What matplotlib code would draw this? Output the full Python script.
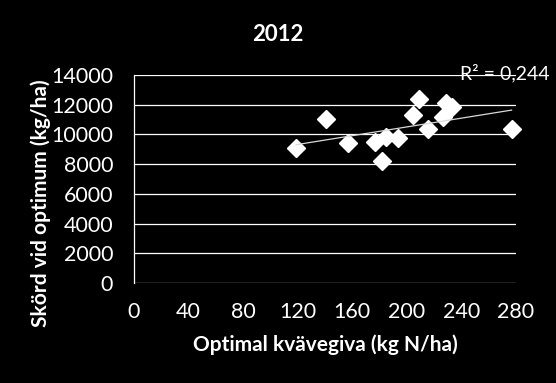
import numpy as np
import matplotlib
matplotlib.use("Agg")
import matplotlib.pyplot as plt

plt.rcParams["font.family"] = ["Lato", "DejaVu Sans"]

# optimal N rate (kg N/ha) and yield at optimum (kg/ha), 2012
kvavegiva = [119, 141, 157, 177, 182, 185, 194, 205, 209, 216, 227, 229, 233, 277]
skord = [9120, 11030, 9440, 9510, 8200, 9800, 9730, 11300, 12380, 10360, 11190, 12090, 11870, 10360]
r2_text = "R² = 0,244"

x_ticks = list(range(0, 281, 40))
y_ticks = list(range(0, 14001, 2000))

fig = plt.figure(figsize=(5.56, 3.83), dpi=100, facecolor="black")
ax = fig.add_axes([0.241, 0.261, 0.6865, 0.543], facecolor="black")

ax.set_xlim(0, 280)
ax.set_ylim(0, 14000)
ax.set_xticks(x_ticks)
ax.set_yticks(y_ticks)
ax.grid(axis="y", color="white", linewidth=0.9)
ax.set_axisbelow(True)

for side in ["top", "right", "bottom"]:
    ax.spines[side].set_visible(False)
ax.spines["left"].set_color("white")
ax.spines["left"].set_linewidth(0.9)

ax.tick_params(axis="both", length=0, colors="white", labelsize=15.5)
ax.tick_params(axis="x", pad=14)
ax.tick_params(axis="y", pad=15)

ax.plot(kvavegiva, skord, linestyle="none", marker="D", markersize=9,
        color="white", markeredgecolor="white", zorder=3, clip_on=False)

# linear trendline over the data range
k, m = np.polyfit(kvavegiva, skord, 1)
xs = np.array([min(kvavegiva), max(kvavegiva)])
ax.plot(xs, k * xs + m, color="#d9d9d9", linewidth=0.9, zorder=4)

fig.text(0.499, 0.91, "2012", color="white", fontsize=16, fontweight="bold",
         ha="center", va="center")
fig.text(0.827, 0.809, r2_text, color="white", fontsize=14, ha="left", va="center")
fig.text(0.5845, 0.099, "Optimal kvävegiva (kg N/ha)", color="white", fontsize=15,
         fontweight="bold", ha="center", va="center")
fig.text(0.0737, 0.4687, "Skörd vid optimum (kg/ha)", color="white", fontsize=15,
         fontweight="bold", ha="center", va="center", rotation=90)

fig.savefig("out.png", dpi=100, facecolor="black")
